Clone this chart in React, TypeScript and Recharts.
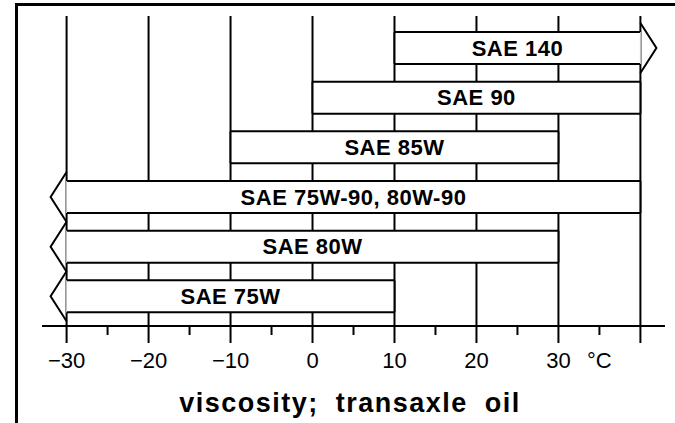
import React from 'react'
import { BarChart, Bar, XAxis, YAxis, CartesianGrid } from 'recharts'

// oil grades, top to bottom, with their usable temperature range (°C)
const grades = ['SAE 140', 'SAE 90', 'SAE 85W', 'SAE 75W-90, 80W-90', 'SAE 80W', 'SAE 75W']
const lowTemps = [10, 0, -10, -30, -30, -30]
const highTemps = [40, 40, 30, 40, 30, 10]
// range keeps going past the chart edge (drawn as a chevron)
const openLow = [false, false, false, true, true, true]
const openHigh = [true, false, false, false, false, false]

const majorTicks = [-30, -20, -10, 0, 10, 20, 30, 40]
const majorLabels = ['\u221230', '\u221220', '\u221210', '0', '10', '20', '30', '']
const minorTicks = [-25, -15, -5, 5, 15, 25, 35]
const unitTick = 35
const unitLabel = '°C'
const title = 'viscosity; transaxle oil'

const data = grades.map((grade, i) => ({
  grade,
  range: [lowTemps[i], highTemps[i]],
  openLow: openLow[i],
  openHigh: openHigh[i],
}))

const allTicks = [...majorTicks, ...minorTicks].sort((a, b) => a - b)
const tempDomain = [-33, 43]
const font = '"Liberation Sans", Arial, sans-serif'

// grid only at the 10° marks, placed with the axis' own scale
function gridLines({ xAxis }: any) {
  const s = xAxis.scale
  const f = typeof s === 'function' ? s : s && typeof s.map === 'function' ? (v: number) => s.map(v) : null
  if (!f) {
    throw new Error('keys: ' + Object.keys(xAxis).join(',') + ' | scale: ' + typeof s + ' ' + (s ? Object.keys(s).join(',') : ''))
  }
  return majorTicks.map((t) => f(t))
}

function OilBar(props: any) {
  const { x, y, width, height, payload } = props
  const cy = y + height / 2
  const arm = height / 2 + 9
  const x2 = x + width
  return (
    <g>
      <rect x={x} y={y} width={width} height={height} fill="#fff" />
      <line x1={x} y1={y} x2={x2} y2={y} stroke="#000" strokeWidth={2} />
      <line x1={x} y1={y + height} x2={x2} y2={y + height} stroke="#000" strokeWidth={2} />
      <line x1={x} y1={y} x2={x} y2={y + height} stroke={payload.openLow ? '#c8c8c8' : '#000'} strokeWidth={payload.openLow ? 1 : 2} />
      <line x1={x2} y1={y} x2={x2} y2={y + height} stroke={payload.openHigh ? '#c8c8c8' : '#000'} strokeWidth={payload.openHigh ? 1 : 2} />
      {payload.openLow && (
        <polyline points={`${x},${cy - arm} ${x - 16},${cy} ${x},${cy + arm}`} fill="none" stroke="#000" strokeWidth={2} />
      )}
      {payload.openHigh && (
        <polyline points={`${x2},${cy - arm} ${x2 + 16},${cy} ${x2},${cy + arm}`} fill="none" stroke="#000" strokeWidth={2} />
      )}
      <text
        x={x + width / 2}
        y={cy}
        textAnchor="middle"
        dominantBaseline="central"
        fontFamily={font}
        fontWeight="bold"
        fontSize={22}
        letterSpacing={0.5}
        fill="#000"
      >
        {payload.grade}
      </text>
    </g>
  )
}

function TempTick(props: any) {
  const { x, y, payload } = props
  const v = payload.value
  const idx = majorTicks.indexOf(v)
  const major = idx >= 0
  const label = major ? majorLabels[idx] : v === unitTick ? unitLabel : ''
  return (
    <g>
      <line x1={x} y1={y} x2={x} y2={y + (major ? 17 : 9)} stroke="#000" strokeWidth={2} />
      {label && (
        <text x={x} y={y + 42} textAnchor="middle" fontFamily={font} fontSize={22} fill="#000">
          {label}
        </text>
      )}
    </g>
  )
}

export default function App() {
  return (
    <div style={{ position: 'absolute', left: 0, top: 0, width: 675, height: 423, background: '#fff' }}>
      <div style={{ position: 'absolute', left: 15, top: 3, width: 660, height: 3, background: '#000' }} />
      <div style={{ position: 'absolute', left: 15, top: 3, width: 3, height: 420, background: '#000' }} />
      <div style={{ position: 'absolute', left: 0, top: 0 }}>
        <BarChart
          width={675}
          height={423}
          data={data}
          layout="vertical"
          margin={{ top: 16, left: 42, right: 10, bottom: 47 }}
        >
          <CartesianGrid horizontal={false} stroke="#000" strokeWidth={2} verticalCoordinatesGenerator={gridLines} />
          <XAxis
            type="number"
            domain={tempDomain}
            allowDataOverflow
            ticks={allTicks}
            interval={0}
            height={50}
            tickLine={false}
            tickSize={0}
            tickMargin={0}
            axisLine={{ stroke: '#000', strokeWidth: 2 }}
            tick={<TempTick />}
          />
          <YAxis type="category" dataKey="grade" hide padding={{ top: 7, bottom: 5 }} />
          <Bar dataKey="range" barSize={32} isAnimationActive={false} shape={<OilBar />} />
        </BarChart>
      </div>
      <div
        style={{
          position: 'absolute',
          left: 0,
          width: 700,
          top: 390,
          textAlign: 'center',
          fontFamily: font,
          fontWeight: 'bold',
          fontSize: 27,
          lineHeight: '26px',
          letterSpacing: 1.5,
          wordSpacing: 8,
          color: '#000',
        }}
      >
        {title}
      </div>
    </div>
  )
}
